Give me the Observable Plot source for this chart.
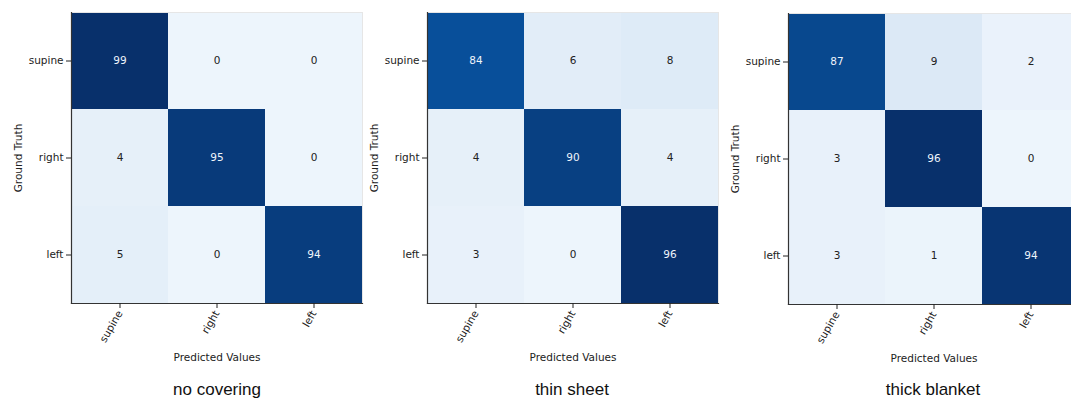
<!DOCTYPE html>
<html>
<head>
<meta charset="utf-8">
<script src="https://cdn.jsdelivr.net/npm/d3@7"></script>
<script src="https://cdn.jsdelivr.net/npm/@observablehq/plot@0.6"></script>
<style>
  html, body { margin: 0; padding: 0; background: #fff; }
  body { width: 1071px; height: 401px; overflow: hidden; position: relative; }
  .panel { position: absolute; top: 0; }
  .title { position: absolute; font-family: "Liberation Sans", Arial, sans-serif; font-size: 17px; color: #111; transform: translate(-50%, -50%); white-space: nowrap; }
</style>
</head>
<body>
<script>
const categories = ["supine", "right", "left"];
const panelTitles = ["no covering", "thin sheet", "thick blanket"];
const noCovering = [[99, 0, 0], [4, 95, 0], [5, 0, 94]];
const thinSheet = [[84, 6, 8], [4, 90, 4], [3, 0, 96]];
const thickBlanket = [[87, 9, 2], [3, 96, 0], [3, 1, 94]];
const xLabel = "Predicted Values";
const yLabel = "Ground Truth";

// matplotlib "Blues" colormap stops
const BLUES = ["#f7fbff", "#deebf7", "#c6dbef", "#9ecae1", "#6baed6", "#4292c6", "#2171b5", "#08519c", "#08306b"];

const matrices = [noCovering, thinSheet, thickBlanket];
const layout = [
  {left: 0, top: 12, titleX: 217},
  {left: 356, top: 12, titleX: 572},
  {left: 717, top: 13, titleX: 933}
];

matrices.forEach((m, k) => {
  const cells = [];
  m.forEach((row, i) => row.forEach((v, j) => cells.push({truth: categories[i], pred: categories[j], value: v})));
  const vals = cells.map(d => d.value);
  const lo = d3.min(vals), hi = d3.max(vals);
  const thresh = (lo + hi) / 2;
  const L = layout[k];
  const plot = Plot.plot({
    width: 71 + 291 + 10,
    height: L.top + 291 + 70,
    marginLeft: 71,
    marginRight: 10,
    marginTop: L.top,
    marginBottom: 70,
    style: {fontFamily: "'DejaVu Sans', sans-serif", fontSize: "10px", color: "#222", background: "transparent"},
    x: {domain: categories, padding: 0, label: null},
    y: {domain: categories, padding: 0, label: null},
    color: {type: "linear", domain: [lo - (hi - lo) * 0.05, hi], interpolate: d3.piecewise(d3.interpolateRgb, BLUES)},
    marks: [
      Plot.cell(cells, {x: "pred", y: "truth", fill: "value"}),
      Plot.text(cells, {x: "pred", y: "truth", text: d => String(d.value), fill: d => d.value > thresh ? "#eef4fb" : "#222", fontSize: 10.5}),
      Plot.frame({stroke: "#e6e6e6"}),
      Plot.frame({anchor: "left", stroke: "#333", strokeWidth: 1.2}),
      Plot.frame({anchor: "bottom", stroke: "#333", strokeWidth: 1.2}),
      Plot.axisY({tickSize: 5, tickPadding: 3, fontSize: 10.5, label: yLabel, labelAnchor: "center", labelOffset: 57, labelArrow: "none"}),
      Plot.axisX({tickSize: 5, tickPadding: 3, tickRotate: -60, fontSize: 10.5, label: xLabel, labelAnchor: "center", labelOffset: 57, labelArrow: "none"})
    ]
  });
  plot.classList.add("panel");
  plot.style.left = L.left + "px";
  document.body.appendChild(plot);
  const t = document.createElement("div");
  t.className = "title";
  t.textContent = panelTitles[k];
  t.style.left = L.titleX + "px";
  t.style.top = "390px";
  document.body.appendChild(t);
});
</script>
</body>
</html>
